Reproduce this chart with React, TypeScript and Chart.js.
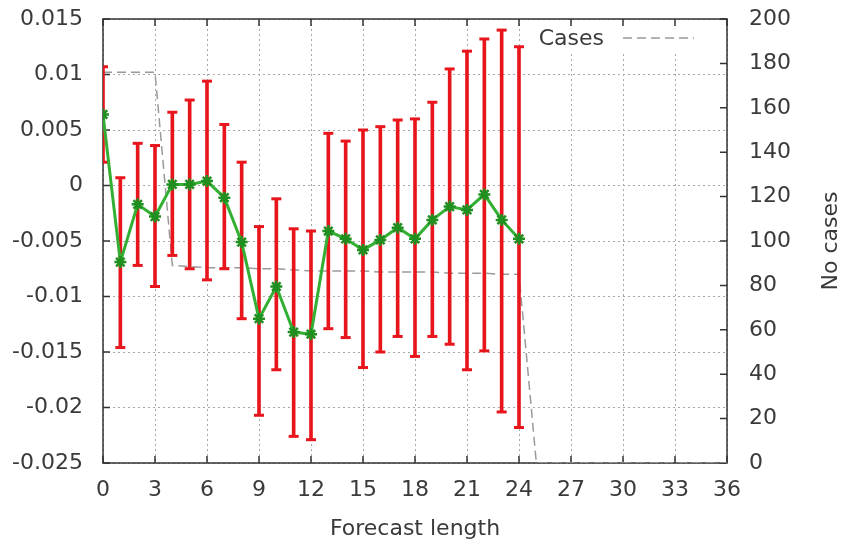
import React, { useEffect, useRef } from "react";
import { Chart, registerables } from "chart.js";

Chart.register(...registerables);

// ---- data ----
const forecastLength = [0, 1, 2, 3, 4, 5, 6, 7, 8, 9, 10, 11, 12, 13, 14, 15, 16, 17, 18, 19, 20, 21, 22, 23, 24];
const meanError = [0.0064, -0.0069, -0.0017, -0.0028, 0.0001, 0.0001, 0.0004, -0.0011, -0.0051, -0.0120, -0.0091, -0.0132, -0.0134, -0.0041, -0.0048, -0.0058, -0.0049, -0.0038, -0.0048, -0.0031, -0.0019, -0.0022, -0.0008, -0.0031, -0.0048];
const upperError = [0.0107, 0.0007, 0.0038, 0.0036, 0.0066, 0.0077, 0.0094, 0.0055, 0.0021, -0.0037, -0.0012, -0.0039, -0.0041, 0.0047, 0.0040, 0.0050, 0.0053, 0.0059, 0.0060, 0.0075, 0.0105, 0.0121, 0.0132, 0.0140, 0.0125];
const lowerError = [0.0021, -0.0146, -0.0072, -0.0091, -0.0063, -0.0075, -0.0085, -0.0075, -0.0120, -0.0207, -0.0166, -0.0226, -0.0229, -0.0129, -0.0137, -0.0164, -0.0150, -0.0136, -0.0154, -0.0136, -0.0143, -0.0166, -0.0149, -0.0204, -0.0218];

const casesX = [0, 1, 2, 3, 4, 5, 6, 7, 8, 9, 10, 11, 12, 13, 14, 15, 16, 17, 18, 19, 20, 21, 22, 23, 24, 25, 26, 27, 28, 29, 30, 31, 32, 33, 34, 35, 36];
const casesY = [176, 176, 176, 176, 89, 88.5, 88, 88, 88, 87.5, 87.5, 87, 86.5, 86.5, 86.5, 86.5, 86, 86, 86, 86, 85.5, 85.5, 85.5, 85, 85, 0, 0, 0, 0, 0, 0, 0, 0, 0, 0, 0, 0];

const xRange = [0, 36];
const xStep = 3;
const yRange = [-0.025, 0.015];
const yStep = 0.005;
const y2Range = [0, 200];
const y2Step = 20;

const xTitle = "Forecast length";
const y2Title = "No cases";
const casesLabel = "Cases";

const FONT = "'DejaVu Sans', 'Liberation Sans', sans-serif";
const TEXT = "#3a3a3a";
const RED = "#e8161c";
const GREEN = "#33b033";
const GREY = "#9a9a9a";

const framePlugin = {
  id: "frame",
  beforeDatasetsDraw(chart: any) {
    const { ctx, chartArea: a, scales } = chart;
    ctx.save();
    // opaque key box (hides grid behind the legend)
    ctx.fillStyle = "#fff";
    ctx.fillRect(528, a.top + 1, a.right - 530, 31);
    ctx.strokeStyle = "#333";
    ctx.lineWidth = 1.5;
    ctx.setLineDash([]);
    ctx.strokeRect(a.left, a.top, a.right - a.left, a.bottom - a.top);
    const tl = 7;
    ctx.beginPath();
    scales.x.ticks.forEach((t: any) => {
      const px = scales.x.getPixelForValue(t.value);
      ctx.moveTo(px, a.bottom);
      ctx.lineTo(px, a.bottom - tl);
      ctx.moveTo(px, a.top);
      ctx.lineTo(px, a.top + tl);
    });
    scales.y.ticks.forEach((t: any) => {
      const py = scales.y.getPixelForValue(t.value);
      ctx.moveTo(a.left, py);
      ctx.lineTo(a.left + tl, py);
    });
    scales.y2.ticks.forEach((t: any) => {
      const py = scales.y2.getPixelForValue(t.value);
      ctx.moveTo(a.right, py);
      ctx.lineTo(a.right - tl, py);
    });
    ctx.stroke();
    ctx.restore();
  },
  afterDraw(chart: any) {
    const { ctx } = chart;
    ctx.save();
    // right axis title, reading bottom-to-top
    ctx.font = `22px ${FONT}`;
    ctx.fillStyle = TEXT;
    ctx.textAlign = "center";
    ctx.textBaseline = "alphabetic";
    ctx.translate(837, 241);
    ctx.rotate(-Math.PI / 2);
    ctx.fillText(y2Title, 0, 0);
    ctx.restore();

    // legend inside plot (top right)
    const ds = chart.data.datasets.find((d: any) => d.label === casesLabel);
    ctx.save();
    ctx.font = `22px ${FONT}`;
    ctx.fillStyle = TEXT;
    ctx.textAlign = "right";
    ctx.textBaseline = "alphabetic";
    ctx.fillText(casesLabel, 604, 44.5);
    ctx.strokeStyle = ds.borderColor;
    ctx.lineWidth = ds.borderWidth;
    ctx.setLineDash(ds.borderDash);
    ctx.beginPath();
    ctx.moveTo(623, 38);
    ctx.lineTo(694, 38);
    ctx.stroke();
    ctx.restore();
  },
};

export default function App() {
  const ref = useRef<HTMLCanvasElement>(null);

  useEffect(() => {
    if (!ref.current) return;
    Chart.defaults.font.family = FONT;
    Chart.defaults.color = TEXT;

    const meanPts = forecastLength.map((x, i) => ({ x, y: meanError[i] }));
    const barPts = forecastLength.map((x, i) => ({ x, y: [lowerError[i], upperError[i]] }));
    const upPts = forecastLength.map((x, i) => ({ x, y: upperError[i] }));
    const lowPts = forecastLength.map((x, i) => ({ x, y: lowerError[i] }));
    const casePts = casesX.map((x, i) => ({ x, y: casesY[i] }));

    const chart = new Chart(ref.current, {
      type: "line",
      data: {
        datasets: [
          {
            label: "Mean",
            type: "line",
            data: meanPts,
            borderColor: GREEN,
            borderWidth: 3,
            pointStyle: "star",
            pointRadius: 6,
            pointBorderWidth: 2.5,
            pointBorderColor: "#1f8f1f",
            pointBackgroundColor: GREEN,
            tension: 0,
            order: 0,
            yAxisID: "y",
          },
          {
            label: "Upper",
            type: "scatter",
            data: upPts,
            showLine: false,
            pointStyle: "line",
            pointRadius: 5,
            borderWidth: 3,
            borderColor: RED,
            backgroundColor: RED,
            order: 1,
            yAxisID: "y",
          },
          {
            label: "Lower",
            type: "scatter",
            data: lowPts,
            showLine: false,
            pointStyle: "line",
            pointRadius: 5,
            borderWidth: 3,
            borderColor: RED,
            backgroundColor: RED,
            order: 1,
            yAxisID: "y",
          },
          {
            label: "Range",
            type: "bar",
            data: barPts as any,
            backgroundColor: RED,
            borderWidth: 0,
            barThickness: 3,
            order: 2,
            yAxisID: "y",
          },
          {
            label: casesLabel,
            type: "line",
            data: casePts,
            borderColor: GREY,
            borderWidth: 1.5,
            borderDash: [9, 5],
            pointRadius: 0,
            tension: 0,
            order: 3,
            yAxisID: "y2",
          },
        ],
      } as any,
      options: {
        responsive: false,
        animation: false,
        layout: { padding: { top: 19, left: 0, right: 0, bottom: 0 } },
        plugins: {
          legend: { display: false },
          tooltip: { enabled: false },
        },
        scales: {
          x: {
            type: "linear",
            min: xRange[0],
            max: xRange[1],
            offset: false,
            grid: { offset: false, color: "#a8a8a8", lineWidth: 1, drawTicks: false },
            border: { display: false, dash: [2, 3] },
            ticks: { stepSize: xStep, padding: 14, font: { size: 22 }, color: TEXT, maxRotation: 0, autoSkip: false },
            title: { display: true, text: xTitle, font: { size: 22 }, color: TEXT, padding: { top: 0, bottom: 1 } },
            afterFit: (s: any) => { s.height = 80; },
          },
          y: {
            type: "linear",
            position: "left",
            min: yRange[0],
            max: yRange[1],
            beginAtZero: false,
            grid: { color: "#a8a8a8", lineWidth: 1, drawTicks: false },
            border: { display: false, dash: [2, 3] },
            ticks: {
              stepSize: yStep,
              padding: 20,
              font: { size: 22 },
              color: TEXT,
              callback: (v: any) => String(parseFloat(Number(v).toFixed(3)) || 0),
            },
            afterFit: (s: any) => { s.width = 103; s.paddingTop = 0; s.paddingBottom = 0; },
          },
          y2: {
            type: "linear",
            position: "right",
            min: y2Range[0],
            max: y2Range[1],
            grid: { drawOnChartArea: false, drawTicks: false },
            border: { display: false },
            ticks: { stepSize: y2Step, padding: 22, font: { size: 22 }, color: TEXT },
            afterFit: (s: any) => { s.width = 114; s.paddingTop = 0; s.paddingBottom = 0; },
          },
        },
      } as any,
      plugins: [framePlugin],
    });
    return () => chart.destroy();
  }, []);

  return (
    <div style={{ position: "absolute", left: 0, top: 0, width: 841, height: 543, background: "#fff" }}>
      <canvas ref={ref} width={841} height={543} style={{ display: "block", width: 841, height: 543 }} />
    </div>
  );
}
